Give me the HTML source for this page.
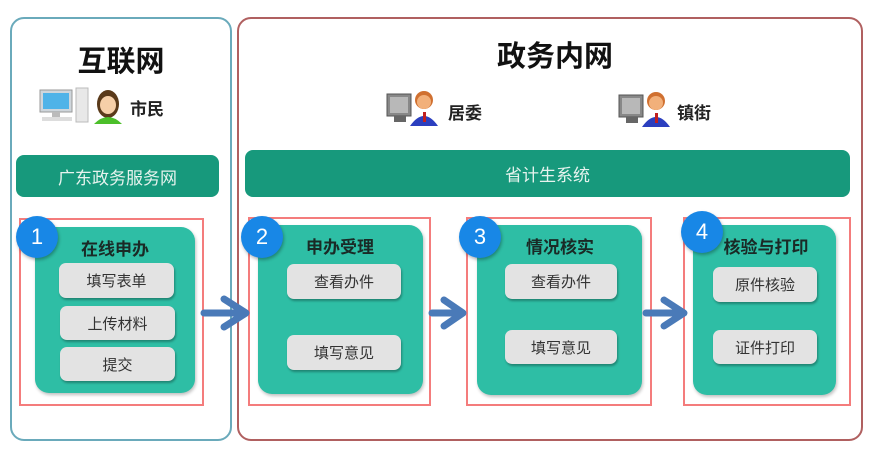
<!DOCTYPE html>
<html><head><meta charset="utf-8"><style>
*{margin:0;padding:0;box-sizing:border-box}
body{width:870px;height:452px;background:#fff;position:relative;overflow:hidden;font-family:"Liberation Sans","Noto Sans CJK SC",sans-serif}
.a{position:absolute}
.outer{border-radius:14px}
.bar{background:#17997c;border-radius:8px;color:#e6f3ee;font-size:17px;display:flex;align-items:center;justify-content:center}
.red{border:2px solid #f47c7c}
.card{background:#2ebea5;border-radius:14px;box-shadow:1px 2px 3px rgba(0,0,0,.25)}
.item{background:#e3e3e3;border-radius:7px;box-shadow:1px 2px 2px rgba(0,0,0,.3);font-size:15px;color:#333;display:flex;align-items:center;justify-content:center}
.ct{font-size:17px;font-weight:bold;color:#1a2a26;text-align:center}
.num{width:42px;height:42px;border-radius:50%;background:#1887e6;color:#fff;font-size:22px;display:flex;align-items:center;justify-content:center;box-shadow:1px 2px 3px rgba(0,0,0,.3)}
.h{font-size:29px;font-weight:bold;color:#111;text-align:center}
.lb{font-size:17px;font-weight:bold;color:#222}
</style></head><body>
<div class="a outer" style="left:10px;top:17px;width:222px;height:424px;border:2px solid #6aaabb"></div>
<div class="a outer" style="left:237px;top:17px;width:626px;height:424px;border:2px solid #b06060"></div>

<div class="a h" style="left:10px;top:38px;width:222px">互联网</div>
<div class="a h" style="left:237px;top:33px;width:636px">政务内网</div>

<svg class="a" style="left:38px;top:86px" width="90" height="40">
<rect x="2" y="4" width="32" height="22" fill="#cfd6dc" stroke="#999"/><rect x="5" y="7" width="26" height="16" fill="#4fb3e8"/>
<rect x="14" y="26" width="8" height="5" fill="#bbb"/><rect x="4" y="31" width="30" height="4" fill="#ddd"/>
<rect x="38" y="2" width="12" height="34" fill="#e8e8e8" stroke="#bbb"/>
<ellipse cx="70" cy="18" rx="11" ry="14" fill="#5a3a1a"/><ellipse cx="70" cy="19" rx="8" ry="9" fill="#f6cfa8"/>
<path d="M56 38 Q70 24 84 38 Z" fill="#4cbf2a"/>
</svg>
<div class="a lb" style="left:130px;top:95px">市民</div>

<svg class="a" style="left:384px;top:86px" width="54" height="42">
<rect x="3" y="8" width="24" height="22" fill="#888" stroke="#555"/><rect x="6" y="11" width="18" height="16" fill="#b8b8b8"/><rect x="10" y="30" width="12" height="6" fill="#666"/>
<circle cx="40" cy="14" r="9" fill="#d07030"/><circle cx="40" cy="16" r="7" fill="#f2b07a"/>
<path d="M26 40 Q40 20 54 40 Z" fill="#2b3fbf"/><rect x="39" y="26" width="3" height="10" fill="#c02020"/>
</svg>
<div class="a lb" style="left:448px;top:99px">居委</div>
<svg class="a" style="left:616px;top:87px" width="54" height="42">
<rect x="3" y="8" width="24" height="22" fill="#888" stroke="#555"/><rect x="6" y="11" width="18" height="16" fill="#b8b8b8"/><rect x="10" y="30" width="12" height="6" fill="#666"/>
<circle cx="40" cy="14" r="9" fill="#d07030"/><circle cx="40" cy="16" r="7" fill="#f2b07a"/>
<path d="M26 40 Q40 20 54 40 Z" fill="#2b3fbf"/><rect x="39" y="26" width="3" height="10" fill="#c02020"/>
</svg>
<div class="a lb" style="left:677px;top:99px">镇街</div>

<div class="a bar" style="left:16px;top:155px;width:203px;height:42px">广东政务服务网</div>
<div class="a bar" style="left:245px;top:150px;width:605px;height:47px">省计生系统</div>

<!-- 1 -->
<div class="a red" style="left:19px;top:218px;width:185px;height:188px"></div>
<div class="a card" style="left:35px;top:227px;width:160px;height:166px"></div>
<div class="a ct" style="left:55px;top:235px;width:120px">在线申办</div>
<div class="a item" style="left:59px;top:263px;width:115px;height:35px">填写表单</div>
<div class="a item" style="left:60px;top:306px;width:115px;height:34px">上传材料</div>
<div class="a item" style="left:60px;top:347px;width:115px;height:34px">提交</div>
<div class="a num" style="left:16px;top:216px">1</div>

<!-- 2 -->
<div class="a red" style="left:248px;top:217px;width:183px;height:189px"></div>
<div class="a card" style="left:258px;top:225px;width:165px;height:169px"></div>
<div class="a ct" style="left:290px;top:233px;width:100px">申办受理</div>
<div class="a item" style="left:287px;top:264px;width:114px;height:35px">查看办件</div>
<div class="a item" style="left:287px;top:335px;width:114px;height:35px">填写意见</div>
<div class="a num" style="left:241px;top:216px">2</div>

<!-- 3 -->
<div class="a red" style="left:466px;top:217px;width:186px;height:189px"></div>
<div class="a card" style="left:477px;top:225px;width:165px;height:170px"></div>
<div class="a ct" style="left:510px;top:233px;width:100px">情况核实</div>
<div class="a item" style="left:505px;top:264px;width:112px;height:35px">查看办件</div>
<div class="a item" style="left:505px;top:330px;width:112px;height:34px">填写意见</div>
<div class="a num" style="left:459px;top:216px">3</div>

<!-- 4 -->
<div class="a red" style="left:683px;top:217px;width:168px;height:189px"></div>
<div class="a card" style="left:693px;top:225px;width:143px;height:170px"></div>
<div class="a ct" style="left:716px;top:233px;width:100px">核验与打印</div>
<div class="a item" style="left:713px;top:267px;width:104px;height:35px">原件核验</div>
<div class="a item" style="left:713px;top:330px;width:104px;height:34px">证件打印</div>
<div class="a num" style="left:681px;top:211px">4</div>

<svg class="a" style="left:0;top:0" width="870" height="452">
<g stroke="#4a7ab8" stroke-width="7" fill="none" stroke-linecap="round" stroke-linejoin="round">
<path d="M204 313 H244 M224 299 L246 313 L224 327"/>
<path d="M432 313 H461 M444 300 L463 313 L444 326"/>
<path d="M646 313 H683 M664 300 L684 313 L664 326"/>
</g></svg>
</body></html>
